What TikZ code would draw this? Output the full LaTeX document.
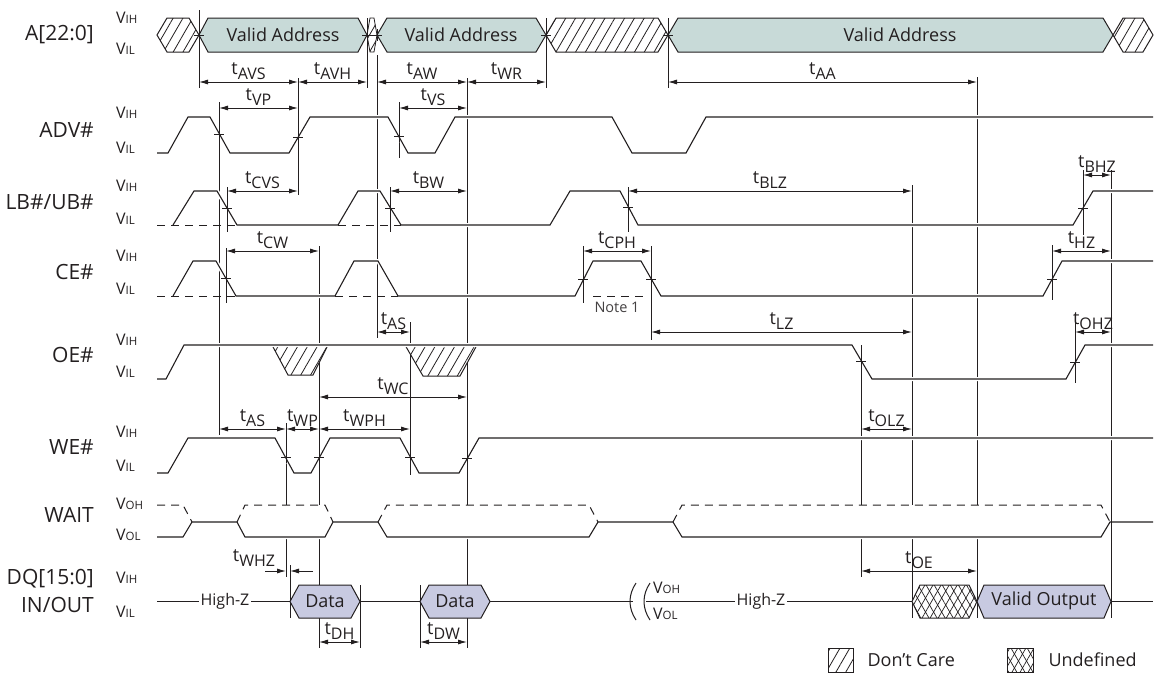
\documentclass[tikz,border=0pt]{standalone}
\usepackage{fontspec}
\setmainfont{Open Sans}
\usetikzlibrary{arrows.meta,patterns.meta}
\definecolor{sigline}{HTML}{231F20}
\definecolor{addrfill}{HTML}{C8DAD8}
\definecolor{datafill}{HTML}{C8CAE1}

\newcommand{\tm}[1]{\fontsize{18}{20}\selectfont t\raisebox{-0.5ex}{\fontsize{16}{18}\selectfont #1}}
\newcommand{\lv}[1]{\fontsize{16}{18}\selectfont V\fontsize{11.5}{13}\selectfont #1}
\newcommand{\hexa}[6]{\path[#1] (#2,{(#4+#5)/2}) -- ({#2+#6},#4) -- ({#3-#6},#4) -- (#3,{(#4+#5)/2}) -- ({#3-#6},#5) -- ({#2+#6},#5) -- cycle;}
\newcommand{\tk}[2]{\draw[tick] (#1-5,#2) -- (#1+5,#2) (#1,#2-6) -- (#1,#2+6);}

\tikzset{
  guide/.style={sigline,line width=0.9pt},
  wave/.style={sigline,line width=1.1pt,preaction={draw=white,line width=4pt,solid}},
  lowdash/.style={sigline,line width=1pt,dash pattern=on 8pt off 6pt},
  tick/.style={sigline,line width=0.9pt},
  dim/.style={sigline,line width=0.9pt,>={Latex[length=9pt,width=5pt]},<->},
  tlab/.style={above,inner sep=2pt,text=sigline},
  sig/.style={anchor=east,inner sep=0pt,font=\fontsize{21}{24}\selectfont,text=sigline},
  lvl/.style={anchor=west,inner sep=0pt,text=sigline},
  bustext/.style={font=\fontsize{18}{20}\selectfont,text=sigline},
  hiz/.style={fill=white,inner sep=2pt,font=\fontsize{16}{18}\selectfont,text=sigline},
  dontcare/.style={preaction={fill=white},pattern={Lines[angle=60,distance=8.5pt,line width=0.8pt]},pattern color=sigline},
  undef/.style={preaction={fill=white},pattern={Lines[angle=60,distance=7pt,line width=0.7pt]},pattern color=sigline,
    postaction={pattern={Lines[angle=-60,distance=7pt,line width=0.7pt]},pattern color=sigline},draw=sigline,line width=1pt},
}

\begin{document}
\begin{tikzpicture}[x=1pt,y=-1pt]
\useasboundingbox (0,0) rectangle (1154,675);

\node[sig] (nA) at (94,35) {A[22:0]};
\node[sig] (nADV) at (94,130) {ADV\#};
\node[sig] (nLB) at (94,202) {LB\#/UB\#};
\node[sig] (nCE) at (94,272) {CE\#};
\node[sig] (nOE) at (94,355) {OE\#};
\node[sig] (nWE) at (94,447) {WE\#};
\node[sig] (nWAIT) at (94,515) {WAIT};
\node[sig] (nDQ) at (94,579) {DQ[15:0]};
\node[sig] (nIO) at (94,605) {IN/OUT};

\node[lvl] (aH) at (116,18) {\lv{IH}};
\node[lvl] (aL) at (116,49) {\lv{IL}};
\node[lvl] (advH) at (116,113) {\lv{IH}};
\node[lvl] (advL) at (116,148) {\lv{IL}};
\node[lvl] (lbH) at (116,186) {\lv{IH}};
\node[lvl] (lbL) at (116,219) {\lv{IL}};
\node[lvl] (ceH) at (116,256) {\lv{IH}};
\node[lvl] (ceL) at (116,289) {\lv{IL}};
\node[lvl] (oeH) at (116,340) {\lv{IH}};
\node[lvl] (oeL) at (116,372) {\lv{IL}};
\node[lvl] (weH) at (116,432) {\lv{IH}};
\node[lvl] (weL) at (116,466) {\lv{IL}};
\node[lvl] (wtH) at (116,504) {\lv{OH}};
\node[lvl] (wtL) at (116,535) {\lv{OL}};
\node[lvl] (dqH) at (116,578) {\lv{IH}};
\node[lvl] (dqL) at (116,612) {\lv{IL}};

\hexa{dontcare,draw=sigline,line width=1pt}{157}{199}{18}{52}{10}
\hexa{fill=addrfill,draw=sigline,line width=1pt}{199}{367}{18}{52}{9}
\hexa{dontcare,draw=sigline,line width=0.8pt}{367}{377}{18}{52}{3}
\hexa{fill=addrfill,draw=sigline,line width=1pt}{377}{546}{18}{52}{10}
\hexa{dontcare,draw=sigline,line width=1pt}{546}{668}{18}{52}{10}
\hexa{fill=addrfill,draw=sigline,line width=1pt}{668}{1113}{18}{52}{10}
\hexa{dontcare,draw=sigline,line width=1pt}{1113}{1153}{18}{52}{10}
\node[bustext] (va1) at (283,35) {Valid Address};
\node[bustext] (va2) at (461,35) {Valid Address};
\node[bustext] (va3) at (900,35) {Valid Address};

\draw[guide] (199,10) -- (199,88);
\draw[guide] (219,102) -- (219,435);
\draw[guide] (226,248) -- (226,303);
\draw[guide] (227,187) -- (227,232);
\draw[guide] (286,423) -- (286,577);
\draw[guide] (290,565) -- (290,618);
\draw[guide] (298,78) -- (298,195);
\draw[guide] (319,246) -- (319,648);
\draw[guide] (360,585) -- (360,648);
\draw[guide] (367,18) -- (367,88);
\draw[guide] (377,55) -- (377,338);
\draw[guide] (390,187) -- (390,232);
\draw[guide] (399,102) -- (399,158);
\draw[guide] (410,322) -- (410,475);
\draw[guide] (420,585) -- (420,648);
\draw[guide] (467,78) -- (467,648);
\draw[guide] (546,18) -- (546,88);
\draw[guide] (583,246) -- (583,303);
\draw[guide] (628,187) -- (628,232);
\draw[guide] (651,246) -- (651,340);
\draw[guide] (668,18) -- (668,88);
\draw[guide] (861,345) -- (861,577);
\draw[guide] (912,185) -- (912,618);
\draw[guide] (977,77) -- (977,618);
\draw[guide] (1052,245) -- (1052,300);
\draw[guide] (1075,322) -- (1075,383);
\draw[guide] (1083,170) -- (1083,235);
\draw[guide] (1111,170) -- (1111,618);

\path[dontcare,draw=sigline,line width=1pt] (272,345) -- (288,375) -- (313,375) -- (328,345);
\path[dontcare,draw=sigline,line width=1pt] (405,345) -- (423,376) -- (460,376) -- (477,345);

\draw[wave] (157,153) -- (168,153) -- (188,117) -- (210,117) -- (230,153) -- (289,153) -- (310,117) -- (388,117) -- (408,153) -- (435,153) -- (455,117) -- (612,117) -- (632,153) -- (686,153) -- (706,117) -- (1153,117);
\draw[wave] (173,225) -- (194,191) -- (217,191) -- (237,225) -- (338,225) -- (358,191) -- (380,191) -- (401,225) -- (550,225) -- (570,191) -- (620,191) -- (638,225) -- (1073,225) -- (1093,191) -- (1153,191);
\draw[wave] (173,296) -- (193,261) -- (216,261) -- (236,296) -- (335,296) -- (354,261) -- (378,261) -- (398,296) -- (575,296) -- (593,261) -- (641,261) -- (661,296) -- (1043,296) -- (1062,261) -- (1153,261);
\draw[wave] (157,379) -- (166,379) -- (184,345) -- (852,345) -- (872,379) -- (1066,379) -- (1085,345) -- (1153,345);
\draw[wave] (157,473) -- (168,473) -- (188,438) -- (275,438) -- (294,473) -- (311,473) -- (330,438) -- (400,438) -- (419,473) -- (459,473) -- (479,438) -- (1153,438);
\draw[lowdash] (157,225) -- (237,225) (338,225) -- (401,225);
\draw[lowdash] (157,296) -- (236,296) (335,296) -- (398,296) (593,296) -- (647,296);
\node[text=sigline!85,font=\fontsize{14.5}{16}\selectfont] (note) at (617,307) {Note 1};

\fill[white] (157,505) -- (183,505) -- (192,522) -- (183,537) -- (157,537) -- cycle;
\hexa{fill=white}{237}{333}{505}{537}{8}
\hexa{fill=white}{378}{598}{505}{537}{9}
\hexa{fill=white}{673}{1110}{505}{537}{9}
\draw[wave] (157,537) -- (183,537) -- (192,522) -- (237,522) -- (245,537) -- (325,537) -- (333,522) -- (378,522) -- (387,537) -- (589,537) -- (598,522) -- (673,522) -- (682,537) -- (1101,537) -- (1110,522) -- (1153,522);
\draw[lowdash] (157,505) -- (183,505) -- (192,522) (237,522) -- (245,505) -- (325,505) -- (333,522) (378,522) -- (387,505) -- (589,505) -- (598,522) (673,522) -- (682,505) -- (1101,505) -- (1110,522);
\draw[guide] (1111,512) -- (1111,532);

\tk{199}{35} \tk{367}{35} \tk{377}{35} \tk{546}{35} \tk{668}{35}
\tk{219}{134} \tk{298}{137} \tk{399}{136}
\tk{227}{208} \tk{390}{208} \tk{628}{207} \tk{1083}{208}
\tk{226}{278} \tk{583}{279} \tk{651}{279} \tk{1052}{279}
\tk{861}{361} \tk{1075}{362}
\tk{286}{457} \tk{319}{457} \tk{410}{457} \tk{467}{458}

\draw[sigline,line width=1pt] (157,601) -- (290,601) (360,601) -- (420,601) (490,601) -- (633,601) (646,601) -- (912,601) (1111,601) -- (1153,601);
\draw[sigline,line width=1pt] (636,583) .. controls (628,595) and (628,608) .. (636,620);
\draw[sigline,line width=1pt] (650,583) .. controls (642,595) and (642,608) .. (650,620);
\node[hiz] (hz1) at (225,601) {High-Z};
\node[hiz] (hz2) at (761,601) {High-Z};
\node[lvl,anchor=west] (vohq) at (653,588) {\lv{OH}};
\node[lvl,anchor=west] (volq) at (653,614) {\lv{OL}};
\hexa{fill=datafill,draw=sigline,line width=1pt}{290}{360}{585}{618}{9}
\hexa{fill=datafill,draw=sigline,line width=1pt}{420}{490}{585}{618}{9}
\hexa{undef}{912}{977}{585}{618}{8}
\hexa{fill=datafill,draw=sigline,line width=1pt}{977}{1111}{585}{618}{7}
\node[bustext] (d1) at (325,601) {Data};
\node[bustext] (d2) at (455,601) {Data};
\node[bustext] (vo) at (1044,601) {Valid Output};

\draw[dim] (199,82) -- node[tlab] {\tm{AVS}} (298,82);
\draw[dim] (298,82) -- node[tlab] {\tm{AVH}} (367,82);
\draw[dim] (377,82) -- node[tlab] {\tm{AW}} (467,82);
\draw[dim] (467,82) -- node[tlab] {\tm{WR}} (546,82);
\draw[dim] (668,82) -- node[tlab] {\tm{AA}} (977,82);
\draw[dim] (219,108) -- node[tlab] {\tm{VP}} (298,108);
\draw[dim] (399,108) -- node[tlab] {\tm{VS}} (467,108);
\draw[dim] (227,191) -- node[tlab] {\tm{CVS}} (298,191);
\draw[dim] (390,191) -- node[tlab] {\tm{BW}} (467,191);
\draw[dim] (628,191) -- node[tlab] {\tm{BLZ}} (912,191);
\draw[dim] (1083,175) -- node[tlab] {\tm{BHZ}} (1111,175);
\draw[dim] (226,251) -- node[tlab] {\tm{CW}} (319,251);
\draw[dim] (583,251) -- node[tlab] {\tm{CPH}} (651,251);
\draw[dim] (1052,251) -- node[tlab] {\tm{HZ}} (1111,251);
\draw[dim] (377,332) -- node[tlab] {\tm{AS}} (410,332);
\draw[dim] (651,332) -- node[tlab] {\tm{LZ}} (912,332);
\draw[dim] (1075,332) -- node[tlab] {\tm{OHZ}} (1111,332);
\draw[dim] (319,397) -- node[tlab] {\tm{WC}} (467,397);
\draw[dim] (219,429) -- node[tlab] {\tm{AS}} (286,429);
\draw[dim] (286,429) -- node[tlab] {\tm{WP}} (319,429);
\draw[dim] (319,429) -- node[tlab] {\tm{WPH}} (410,429);
\draw[dim] (861,429) -- node[tlab] {\tm{OLZ}} (912,429);
\draw[dim] (861,571) -- node[tlab] {\tm{OE}} (977,571);
\draw[dim] (319,642) -- node[tlab] {\tm{DH}} (360,642);
\draw[dim] (420,642) -- node[tlab] {\tm{DW}} (467,642);
\draw[dim,-{Latex[length=9pt,width=5pt]}] (265,571) -- (286,571);
\draw[dim,-{Latex[length=9pt,width=5pt]}] (313,571) -- (290,571);
\node[tlab] (whz) at (254,569) {\tm{WHZ}};

\path[dontcare,draw=sigline,line width=0.8pt] (828,648) rectangle (853,672);
\node[bustext,anchor=west] (ldc) at (864,660) {Don’t Care};
\path[undef,line width=0.8pt] (1007,648) rectangle (1033,672);
\node[bustext,anchor=west] (lud) at (1045,660) {Undefined};
\end{tikzpicture}
\end{document}
